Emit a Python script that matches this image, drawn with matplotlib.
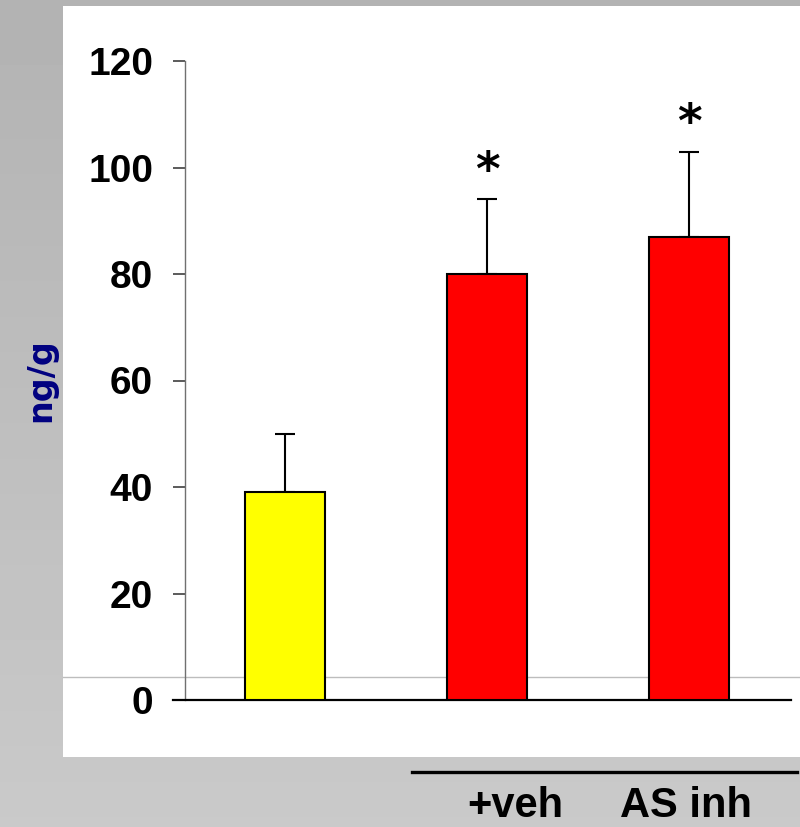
import numpy as np
import matplotlib
matplotlib.use('Agg')
import matplotlib.pyplot as plt
from matplotlib.patches import Rectangle
from matplotlib.lines import Line2D

plt.rcParams['font.family'] = ['Liberation Sans', 'DejaVu Sans']

means = [39, 80, 87]
errors = [11, 14, 16]
colors = ['#FFFF00', '#FF0000', '#FF0000']
stars = ['', '*', '*']
group_labels = ['+veh', 'AS inh']
yticks = [0, 20, 40, 60, 80, 100, 120]

W, H = 800, 827
fig = plt.figure(figsize=(W / 100, H / 100), dpi=100)

# grey slide background, darker at the top, lighter towards the bottom
bg = fig.add_axes([0, 0, 1, 1], zorder=-10)
grad = np.linspace(0.70, 0.79, 256).reshape(-1, 1)
bg.imshow(grad, cmap='gray', vmin=0, vmax=1, aspect='auto',
          extent=[0, 1, 0, 1], origin='upper')
bg.set_xlim(0, 1)
bg.set_ylim(0, 1)
bg.axis('off')

# white panel
fig.patches.append(Rectangle((63 / W, 1 - 757 / H), (W - 63) / W, (757 - 6) / H,
                             transform=fig.transFigure, facecolor='white',
                             edgecolor='none', zorder=-5))
# faint grey horizontal rule across the panel
fig.lines.append(Line2D([63 / W, 1], [1 - 677 / H] * 2, transform=fig.transFigure,
                        color='#BDBDBD', lw=1, zorder=-4))

ax = fig.add_axes([173 / W, 1 - 700 / H, 618 / W, 639 / H])
ax.patch.set_visible(False)

x = np.arange(len(means))
ax.bar(x, means, width=0.396, color=colors, edgecolor='black', linewidth=1.5, zorder=3)
ax.errorbar(x, means, yerr=[np.zeros(len(errors)), errors], fmt='none',
            ecolor='black', elinewidth=1.5, capsize=7, capthick=1.5, zorder=2)
for xi, m, e, s in zip(x, means, errors, stars):
    if s:
        ax.text(xi, m + e + 5, s, ha='center', va='center', fontsize=34,
                fontweight='bold', family='DejaVu Sans')

ax.set_xlim(-0.554, 2.505)
ax.set_ylim(0, 120)
ax.set_yticks(yticks)
ax.set_xticks([])
for side in ['top', 'right']:
    ax.spines[side].set_visible(False)
ax.spines['left'].set_position(('axes', 12 / 618))
ax.spines['left'].set_color('#707070')
ax.spines['left'].set_linewidth(1)
ax.spines['bottom'].set_linewidth(1.6)
ax.tick_params(axis='y', length=9, width=1.2, color='#404040', pad=14,
               labelsize=28)
for lab in ax.get_yticklabels():
    lab.set_fontweight('bold')

fig.text(41 / W, 1 - 380 / H, 'ng/g', rotation=90, ha='center', va='center',
         fontsize=24, fontweight='bold', color='#000080', family='DejaVu Sans')

# group bar and labels under the red bars
fig.lines.append(Line2D([412 / W, 797 / W], [1 - 772 / H] * 2,
                        transform=fig.transFigure, color='black', lw=2.4))
for lx, lab in zip([515, 686], group_labels):
    fig.text(lx / W, 1 - 806 / H, lab, ha='center', va='center', fontsize=30,
             fontweight='bold')

fig.savefig('out.png', dpi=100)
